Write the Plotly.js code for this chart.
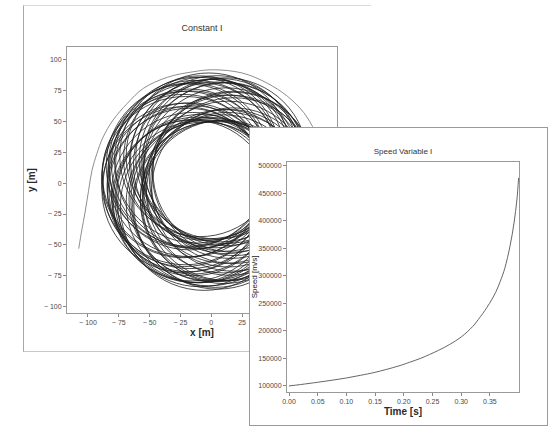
<!DOCTYPE html>
<html>
<head>
<meta charset="utf-8">
<script src="https://cdn.plot.ly/plotly-3.0.1.min.js"></script>
<style>
  html, body { margin: 0; padding: 0; background: #fff; width: 551px; height: 429px; overflow: hidden; position: relative; }
  #backBox { position: absolute; left: 23px; top: 5px; width: 347px; height: 345px;
             border-top: 1px solid #dcdcdc; border-left: 1px solid #a8a8a8; border-bottom: 1px solid #c8c8c8; }
  #back { position: absolute; left: 24px; top: 6px; width: 346px; height: 345px; }
  #front { position: absolute; left: 249px; top: 127px; width: 297px; height: 297px;
           border: 1px solid #9a9a9a; background: #fff; z-index: 5; }
</style>
</head>
<body>
<div id="backBox"></div>
<div id="back"></div>
<div id="front"></div>
<script>
// ---- Constant I : trajectory (x [m], y [m]) ----
// entry path
var entryX = [-107.5, -105.0, -102.4, -99.5, -96.7, -92.7, -87.8, -79.6, -68.0, -55.0, -35.7, -14.6, 1.6, 25.0, 45.0, 62.0, 75.0, 84.0, 89.0, 91.0];
var entryY = [-53.0, -38.0, -24.0, -6.0, 10.5, 24.0, 37.0, 51.0, 64.5, 76.6, 85.5, 90.0, 91.6, 89.0, 81.0, 70.0, 57.0, 42.0, 28.0, 10.0];
// the many later loops, estimated as circles (centre x, centre y, radius)
var loopCx = [18.0, -5.1, -21.7, 7.5, 11.0, -17.3, -11.0, 17.7, 0.6, -21.0, 0.8, 17.7, -11.5, -15.0, 13.3, 7.5, -17.0, -5.7,
              15.7, -9.2, -15.0, 9.6, 11.5, -17.6, -8.8, 13.8, -2.0, -21.7, 5.2, 11.9, -12.9, -15.5, 14.5, 4.8, -22.7, -2.0,
              12.0, 11.4, -0.5, -10.6, -21.3, -18.3, -8.8, 3.2, 10.3, 18.3, 3.9, -19.2, -17.5, -13.5, -0.7, 10.1];
var loopCy = [2.0, 19.7, -5.2, -14.5, 12.9, 14.9, -13.6, -5.2, 16.8, 2.0, -13.8, 9.2, 18.5, -8.9, -10.9, 18.5, 7.5, -18.7,
              5.1, 21.7, -5.5, -11.8, 18.1, 11.0, -16.8, -0.8, 22.0, -1.5, -17.7, 10.0, 15.0, -14.1, -7.5, 20.8, 5.7, -16.0,
              3.2, 15.4, 18.9, 14.3, 7.2, -5.6, -12.5, -17.3, -6.6, 7.4, 14.7, 14.1, -2.1, -14.4, -12.9, -15.2];
var loopR  = [67, 66, 67, 65, 68, 66, 67, 66, 67, 68, 66, 65, 67, 66, 68, 66, 67, 68,
              66, 65, 68, 67, 67, 65, 67, 67, 67, 66, 68, 67, 68, 65, 67, 66, 66, 67,
              68, 66, 65, 67, 67, 66, 68, 67, 66, 66, 67, 66, 67, 66, 66, 66];
var backXTicks = [-100, -75, -50, -25, 0, 25, 50, 75, 100];
var backXText  = ['\u2212 100', '\u2212 75', '\u2212 50', '\u2212 25', '0', '25', '50', '75', '100'];
var backYTicks = [-100, -75, -50, -25, 0, 25, 50, 75, 100];
var backYText  = ['\u2212 100', '\u2212 75', '\u2212 50', '\u2212 25', '0', '25', '50', '75', '100'];

// ---- Speed Variable I ----
var timeS  = [0, 0.02, 0.05, 0.075, 0.10, 0.125, 0.15, 0.19, 0.21, 0.23, 0.26, 0.28, 0.30, 0.32, 0.33, 0.345, 0.36, 0.368, 0.376, 0.385, 0.392, 0.397, 0.400];
var speed  = [100000, 102500, 106700, 110400, 114500, 119400, 124800, 136000, 143000, 150500, 164500, 175500, 189000, 208000, 221000, 243000, 270000, 290000, 314000, 354000, 396000, 438000, 478000];
var frontXTicks = [0, 0.05, 0.10, 0.15, 0.20, 0.25, 0.30, 0.35];
var frontYTicks = [100000, 150000, 200000, 250000, 300000, 350000, 400000, 450000, 500000];

var FONT = 'Liberation Sans, Arial, sans-serif';
var tickFont = {family: FONT, size: 7, color: '#4a4a4a'};
var axTitleFont = {family: FONT, size: 10, color: '#2a2a2a', weight: 'bold'};

function axisBase() {
  return {
    showgrid: false, zeroline: false, showline: true, mirror: true,
    linecolor: '#9a9a9a', linewidth: 1,
    ticks: 'outside', ticklen: 3, tickcolor: '#888', tickwidth: 1,
    tickfont: tickFont, automargin: false
  };
}

// back figure
var shapes = [];
for (var i = 0; i < loopCx.length; i++) {
  shapes.push({
    type: 'circle', xref: 'x', yref: 'y', layer: 'above',
    x0: loopCx[i] - loopR[i], x1: loopCx[i] + loopR[i],
    y0: loopCy[i] - loopR[i], y1: loopCy[i] + loopR[i],
    line: {color: '#1e1e1e', width: 0.8}
  });
}
var bx = axisBase();
bx.range = [-117, 102]; bx.tickvals = backXTicks; bx.ticktext = backXText;
bx.title = {text: 'x [m]', font: axTitleFont, standoff: 3};
var by = axisBase();
by.range = [-105, 110]; by.tickvals = backYTicks; by.ticktext = backYText;
by.title = {text: 'y [m]', font: axTitleFont, standoff: 6};

Plotly.newPlot('back', [{
  x: entryX, y: entryY, type: 'scatter', mode: 'lines',
  line: {color: '#808080', width: 0.9, shape: 'spline'}, hoverinfo: 'skip'
}], {
  width: 346, height: 345,
  margin: {l: 43, r: 33, t: 41, b: 38},
  paper_bgcolor: 'rgba(0,0,0,0)', plot_bgcolor: 'rgba(0,0,0,0)',
  showlegend: false,
  title: {text: 'Constant I', font: {family: FONT, size: 9, color: '#333'},
          x: 0.5, xref: 'paper', xanchor: 'center', y: 1 - 22/345, yref: 'container', yanchor: 'middle'},
  xaxis: bx, yaxis: by, shapes: shapes
}, {staticPlot: true});

// front figure
var fx = axisBase();
fx.range = [-0.0035, 0.4007]; fx.tickvals = frontXTicks; fx.tickformat = '.2f';
fx.title = {text: 'Time [s]', font: axTitleFont, standoff: 3};
var fy = axisBase();
fy.range = [89000, 507000]; fy.tickvals = frontYTicks; fy.tickformat = 'd';
fy.title = {text: 'Speed [m/s]', font: {family: FONT, size: 8, color: '#222'}, standoff: 2};

Plotly.newPlot('front', [{
  x: timeS, y: speed, type: 'scatter', mode: 'lines',
  line: {color: '#555', width: 0.9, shape: 'spline'}, hoverinfo: 'skip'
}], {
  width: 297, height: 297,
  margin: {l: 37, r: 28, t: 34, b: 33},
  paper_bgcolor: '#fff', plot_bgcolor: '#fff',
  showlegend: false,
  title: {text: 'Speed Variable I', font: {family: FONT, size: 8, color: '#333'},
          x: 0.5, xref: 'paper', xanchor: 'center', y: 1 - 23/297, yref: 'container', yanchor: 'middle'},
  xaxis: fx, yaxis: fy
}, {staticPlot: true});
</script>
</body>
</html>
